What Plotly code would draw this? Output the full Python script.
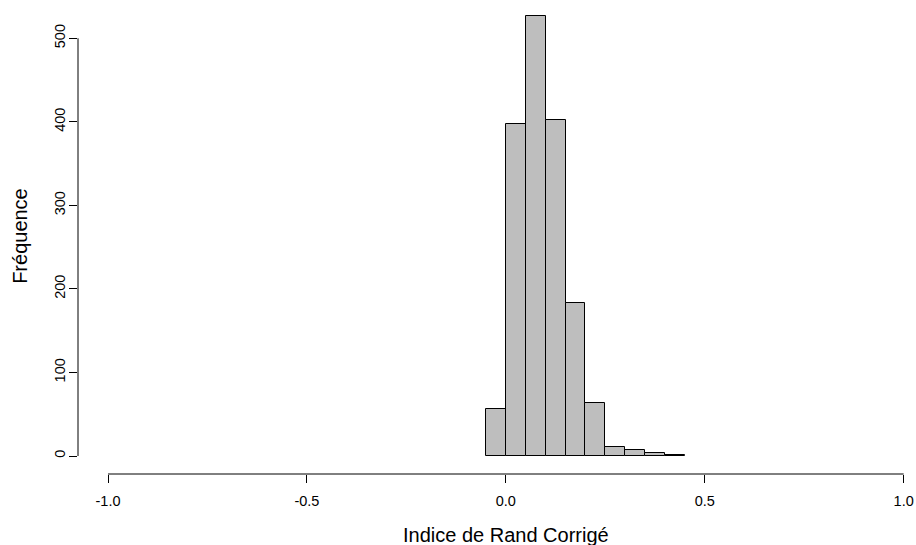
import plotly.graph_objects as go

# Histogram data (bin edges, counts)
bin_edges = [-0.05, 0.0, 0.05, 0.10, 0.15, 0.20, 0.25, 0.30, 0.35, 0.40, 0.45]
counts = [56, 397, 527, 402, 183, 63, 11, 7, 3, 1]

x_ticks = [-1.0, -0.5, 0.0, 0.5, 1.0]
x_tick_labels = ["-1.0", "-0.5", "0.0", "0.5", "1.0"]
y_ticks = [0, 100, 200, 300, 400, 500]
y_tick_labels = ["0", "100", "200", "300", "400", "500"]

x_title = "Indice de Rand Corrigé"
y_title = "Fréquence"

centers = [(a + b) / 2 for a, b in zip(bin_edges[:-1], bin_edges[1:])]
widths = [b - a for a, b in zip(bin_edges[:-1], bin_edges[1:])]

FONT = "Liberation Sans, Arial, sans-serif"

fig = go.Figure()
fig.add_trace(go.Bar(
    x=centers, y=counts, width=widths,
    marker=dict(color="#BEBEBE", line=dict(color="black", width=1)),
    showlegend=False, hoverinfo="x+y",
))

fig.update_layout(
    width=916, height=545,
    margin=dict(l=78, r=0, t=0, b=71, autoexpand=False),
    plot_bgcolor="white", paper_bgcolor="white",
    font=dict(family=FONT, size=14.5, color="black"),
    bargap=0,
)

fig.update_xaxes(
    range=[-1.0754, 1.031],
    tickvals=x_ticks, ticktext=x_tick_labels,
    ticks="outside", ticklen=8, tickwidth=1, tickcolor="black",
    showline=False, showgrid=False, zeroline=False,
    ticklabelstandoff=6,
    tickfont=dict(size=14.5, family=FONT, color="black"),
)
fig.update_yaxes(
    range=[-21.55, 545.85],
    tickvals=y_ticks, ticktext=y_tick_labels,
    ticks="outside", ticklen=8, tickwidth=1, tickcolor="black",
    tickangle=-90,
    showline=False, showgrid=False, zeroline=False,
    ticklabelstandoff=-2,
    tickfont=dict(size=14.5, family=FONT, color="black"),
)

# R-style axis lines spanning first to last tick
fig.add_shape(type="line", xref="x", yref="paper",
              x0=x_ticks[0], x1=x_ticks[-1], y0=0, y1=0,
              line=dict(color="black", width=1))
fig.add_shape(type="line", xref="paper", yref="y",
              x0=0, x1=0, y0=y_ticks[0], y1=y_ticks[-1],
              line=dict(color="black", width=1))

fig.add_annotation(text=x_title, xref="x", yref="paper", x=0, y=0,
                   yanchor="middle", xanchor="center", yshift=-61,
                   showarrow=False, font=dict(size=20, family=FONT, color="black"))
fig.add_annotation(text=y_title, xref="paper", yref="y", x=0, y=263.5,
                   xanchor="center", yanchor="middle", xshift=-58, textangle=-90,
                   showarrow=False, font=dict(size=20, family=FONT, color="black"))

fig.write_html(
    "out.html",
    config={"displayModeBar": False},
    post_script="document.body.style.margin='0';document.body.style.overflow='hidden';",
)
